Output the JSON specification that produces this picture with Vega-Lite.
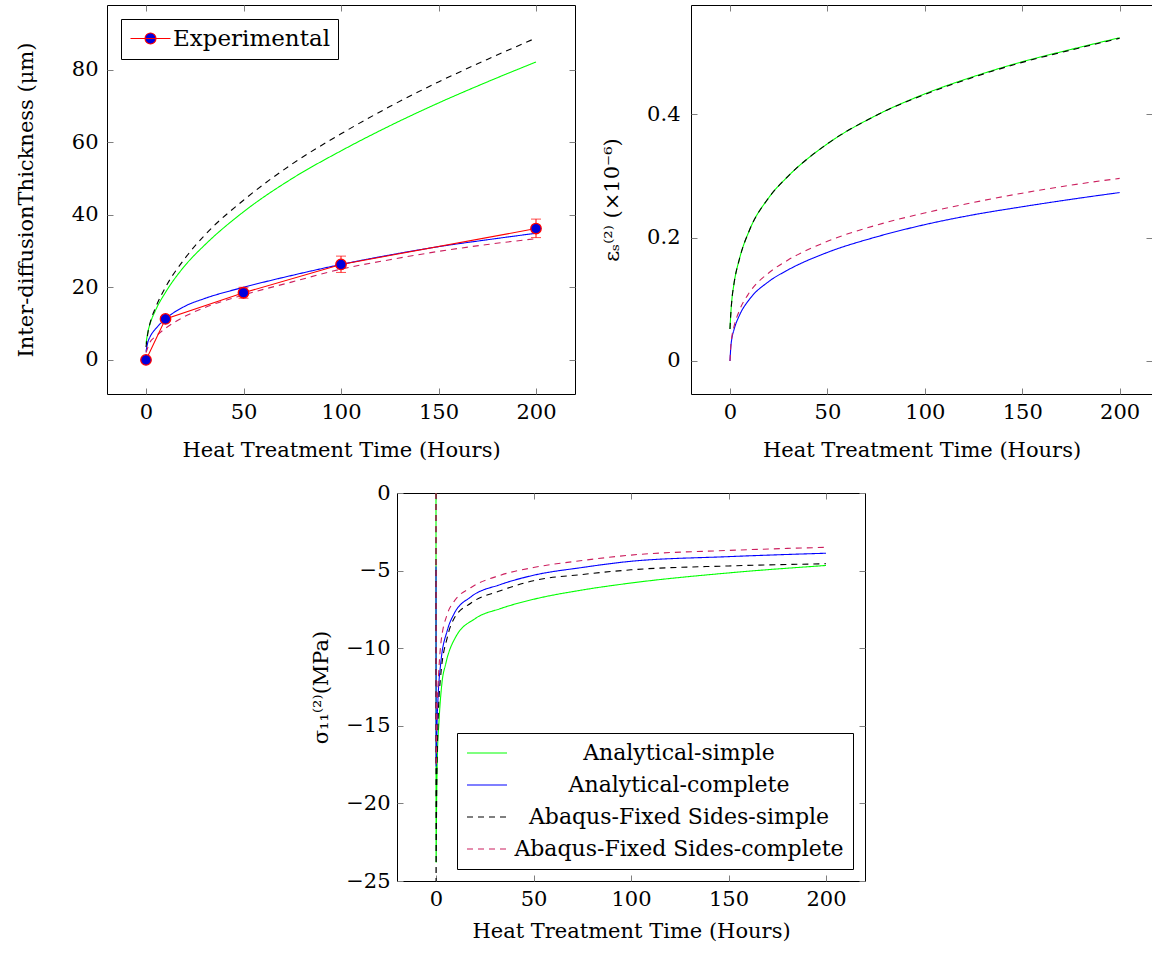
{
"$schema": "https://vega.github.io/schema/vega-lite/v6.json",
"padding": {"left": 14, "top": 4, "right": 0, "bottom": 0},
"config": {
  "font": "DejaVu Serif",
  "view": {"stroke": "#000000", "strokeWidth": 1},
  "axis": {"grid": false, "domain": false, "tickSize": -6, "tickColor": "#7f7f7f", "tickWidth": 1, "labelFontSize": 21, "titleFontSize": 21, "titleFontWeight": "normal", "labelColor": "#000000", "titleColor": "#000000", "labelFlush": false, "labelOverlap": false, "labelFont": "DejaVu Serif", "titleFont": "DejaVu Serif"},
  "legend": {"labelFont": "DejaVu Serif", "labelFontSize": 21, "labelColor": "#000000", "labelLimit": 600},
  "line": {"strokeWidth": 1.1}
},
"datasets": {
  "thick": [
    {"t":0,"v":4.5,"s":"Analytical-simple"},{"t":1,"v":7.8,"s":"Analytical-simple"},{"t":2,"v":9.8,"s":"Analytical-simple"},{"t":5,"v":13.8,"s":"Analytical-simple"},{"t":10,"v":18.6,"s":"Analytical-simple"},{"t":20,"v":26,"s":"Analytical-simple"},{"t":30,"v":31.6,"s":"Analytical-simple"},{"t":50,"v":40.8,"s":"Analytical-simple"},{"t":75,"v":50,"s":"Analytical-simple"},{"t":100,"v":57.6,"s":"Analytical-simple"},{"t":125,"v":64.5,"s":"Analytical-simple"},{"t":150,"v":70.8,"s":"Analytical-simple"},{"t":175,"v":76.6,"s":"Analytical-simple"},{"t":200,"v":82.1,"s":"Analytical-simple"},
    {"t":0,"v":2.3,"s":"Analytical-complete"},{"t":1,"v":5,"s":"Analytical-complete"},{"t":2,"v":6.3,"s":"Analytical-complete"},{"t":5,"v":8.6,"s":"Analytical-complete"},{"t":10,"v":11.3,"s":"Analytical-complete"},{"t":20,"v":14.8,"s":"Analytical-complete"},{"t":30,"v":16.9,"s":"Analytical-complete"},{"t":50,"v":20,"s":"Analytical-complete"},{"t":75,"v":23.3,"s":"Analytical-complete"},{"t":100,"v":26.3,"s":"Analytical-complete"},{"t":125,"v":28.9,"s":"Analytical-complete"},{"t":150,"v":31.2,"s":"Analytical-complete"},{"t":175,"v":33.1,"s":"Analytical-complete"},{"t":200,"v":34.9,"s":"Analytical-complete"},
    {"t":0,"v":3.5,"s":"Abaqus-Fixed Sides-simple"},{"t":1,"v":7.5,"s":"Abaqus-Fixed Sides-simple"},{"t":2,"v":10,"s":"Abaqus-Fixed Sides-simple"},{"t":5,"v":14.5,"s":"Abaqus-Fixed Sides-simple"},{"t":10,"v":20,"s":"Abaqus-Fixed Sides-simple"},{"t":20,"v":28,"s":"Abaqus-Fixed Sides-simple"},{"t":30,"v":34.3,"s":"Abaqus-Fixed Sides-simple"},{"t":50,"v":44,"s":"Abaqus-Fixed Sides-simple"},{"t":75,"v":54,"s":"Abaqus-Fixed Sides-simple"},{"t":100,"v":62.3,"s":"Abaqus-Fixed Sides-simple"},{"t":125,"v":69.8,"s":"Abaqus-Fixed Sides-simple"},{"t":150,"v":76.6,"s":"Abaqus-Fixed Sides-simple"},{"t":175,"v":82.8,"s":"Abaqus-Fixed Sides-simple"},{"t":200,"v":88.7,"s":"Abaqus-Fixed Sides-simple"},
    {"t":0,"v":2,"s":"Abaqus-Fixed Sides-complete"},{"t":1,"v":3.5,"s":"Abaqus-Fixed Sides-complete"},{"t":2,"v":4.8,"s":"Abaqus-Fixed Sides-complete"},{"t":5,"v":6.5,"s":"Abaqus-Fixed Sides-complete"},{"t":10,"v":8.7,"s":"Abaqus-Fixed Sides-complete"},{"t":20,"v":12,"s":"Abaqus-Fixed Sides-complete"},{"t":30,"v":14.4,"s":"Abaqus-Fixed Sides-complete"},{"t":50,"v":17.9,"s":"Abaqus-Fixed Sides-complete"},{"t":75,"v":21.5,"s":"Abaqus-Fixed Sides-complete"},{"t":100,"v":25,"s":"Abaqus-Fixed Sides-complete"},{"t":125,"v":27.6,"s":"Abaqus-Fixed Sides-complete"},{"t":150,"v":29.9,"s":"Abaqus-Fixed Sides-complete"},{"t":175,"v":31.8,"s":"Abaqus-Fixed Sides-complete"},{"t":200,"v":33.4,"s":"Abaqus-Fixed Sides-complete"}
  ],
  "exp": [
    {"t":0,"v":0,"lo":0,"hi":0},{"t":10,"v":11.3,"lo":10.8,"hi":11.8},{"t":50,"v":18.5,"lo":17,"hi":20},{"t":100,"v":26.3,"lo":24.1,"hi":28.6},{"t":200,"v":36.2,"lo":33.7,"hi":38.8}
  ],
  "strain": [
    {"t":0,"v":0.052,"s":"Analytical-simple"},{"t":0.5,"v":0.08,"s":"Analytical-simple"},{"t":1,"v":0.1,"s":"Analytical-simple"},{"t":2,"v":0.124,"s":"Analytical-simple"},{"t":5,"v":0.167,"s":"Analytical-simple"},{"t":10,"v":0.212,"s":"Analytical-simple"},{"t":20,"v":0.265,"s":"Analytical-simple"},{"t":30,"v":0.3,"s":"Analytical-simple"},{"t":50,"v":0.352,"s":"Analytical-simple"},{"t":75,"v":0.398,"s":"Analytical-simple"},{"t":100,"v":0.433,"s":"Analytical-simple"},{"t":125,"v":0.461,"s":"Analytical-simple"},{"t":150,"v":0.485,"s":"Analytical-simple"},{"t":175,"v":0.505,"s":"Analytical-simple"},{"t":200,"v":0.524,"s":"Analytical-simple"},
    {"t":0,"v":0,"s":"Analytical-complete"},{"t":0.5,"v":0.025,"s":"Analytical-complete"},{"t":1,"v":0.037,"s":"Analytical-complete"},{"t":2,"v":0.05,"s":"Analytical-complete"},{"t":5,"v":0.075,"s":"Analytical-complete"},{"t":10,"v":0.1,"s":"Analytical-complete"},{"t":20,"v":0.129,"s":"Analytical-complete"},{"t":30,"v":0.148,"s":"Analytical-complete"},{"t":50,"v":0.176,"s":"Analytical-complete"},{"t":75,"v":0.201,"s":"Analytical-complete"},{"t":100,"v":0.221,"s":"Analytical-complete"},{"t":125,"v":0.237,"s":"Analytical-complete"},{"t":150,"v":0.25,"s":"Analytical-complete"},{"t":175,"v":0.262,"s":"Analytical-complete"},{"t":200,"v":0.273,"s":"Analytical-complete"},
    {"t":0,"v":0.052,"s":"Abaqus-Fixed Sides-simple"},{"t":0.5,"v":0.08,"s":"Abaqus-Fixed Sides-simple"},{"t":1,"v":0.1,"s":"Abaqus-Fixed Sides-simple"},{"t":2,"v":0.124,"s":"Abaqus-Fixed Sides-simple"},{"t":5,"v":0.167,"s":"Abaqus-Fixed Sides-simple"},{"t":10,"v":0.212,"s":"Abaqus-Fixed Sides-simple"},{"t":20,"v":0.265,"s":"Abaqus-Fixed Sides-simple"},{"t":30,"v":0.3,"s":"Abaqus-Fixed Sides-simple"},{"t":50,"v":0.352,"s":"Abaqus-Fixed Sides-simple"},{"t":75,"v":0.398,"s":"Abaqus-Fixed Sides-simple"},{"t":100,"v":0.432,"s":"Abaqus-Fixed Sides-simple"},{"t":125,"v":0.46,"s":"Abaqus-Fixed Sides-simple"},{"t":150,"v":0.484,"s":"Abaqus-Fixed Sides-simple"},{"t":175,"v":0.504,"s":"Abaqus-Fixed Sides-simple"},{"t":200,"v":0.523,"s":"Abaqus-Fixed Sides-simple"},
    {"t":0,"v":0,"s":"Abaqus-Fixed Sides-complete"},{"t":0.5,"v":0.027,"s":"Abaqus-Fixed Sides-complete"},{"t":1,"v":0.04,"s":"Abaqus-Fixed Sides-complete"},{"t":2,"v":0.055,"s":"Abaqus-Fixed Sides-complete"},{"t":5,"v":0.083,"s":"Abaqus-Fixed Sides-complete"},{"t":10,"v":0.111,"s":"Abaqus-Fixed Sides-complete"},{"t":20,"v":0.143,"s":"Abaqus-Fixed Sides-complete"},{"t":30,"v":0.164,"s":"Abaqus-Fixed Sides-complete"},{"t":50,"v":0.194,"s":"Abaqus-Fixed Sides-complete"},{"t":75,"v":0.22,"s":"Abaqus-Fixed Sides-complete"},{"t":100,"v":0.24,"s":"Abaqus-Fixed Sides-complete"},{"t":125,"v":0.257,"s":"Abaqus-Fixed Sides-complete"},{"t":150,"v":0.272,"s":"Abaqus-Fixed Sides-complete"},{"t":175,"v":0.285,"s":"Abaqus-Fixed Sides-complete"},{"t":200,"v":0.296,"s":"Abaqus-Fixed Sides-complete"}
  ],
  "stress": [
    {"t":0,"v":0,"s":"Analytical-simple"},{"t":0.05,"v":-23.8,"s":"Analytical-simple"},{"t":0.3,"v":-20,"s":"Analytical-simple"},{"t":0.7,"v":-17,"s":"Analytical-simple"},{"t":1.5,"v":-14.8,"s":"Analytical-simple"},{"t":3,"v":-12.3,"s":"Analytical-simple"},{"t":5,"v":-11,"s":"Analytical-simple"},{"t":10,"v":-9.3,"s":"Analytical-simple"},{"t":20,"v":-8.1,"s":"Analytical-simple"},{"t":33,"v":-7.45,"s":"Analytical-simple"},{"t":50,"v":-6.85,"s":"Analytical-simple"},{"t":75,"v":-6.25,"s":"Analytical-simple"},{"t":100,"v":-5.8,"s":"Analytical-simple"},{"t":150,"v":-5.15,"s":"Analytical-simple"},{"t":200,"v":-4.67,"s":"Analytical-simple"},
    {"t":0,"v":-4.74,"s":"Analytical-complete"},{"t":0.1,"v":-17.6,"s":"Analytical-complete"},{"t":0.5,"v":-15,"s":"Analytical-complete"},{"t":1,"v":-13.3,"s":"Analytical-complete"},{"t":2.4,"v":-11,"s":"Analytical-complete"},{"t":5.8,"v":-8.85,"s":"Analytical-complete"},{"t":9.2,"v":-7.8,"s":"Analytical-complete"},{"t":17.8,"v":-6.7,"s":"Analytical-complete"},{"t":33,"v":-5.9,"s":"Analytical-complete"},{"t":50,"v":-5.3,"s":"Analytical-complete"},{"t":75,"v":-4.8,"s":"Analytical-complete"},{"t":100,"v":-4.4,"s":"Analytical-complete"},{"t":150,"v":-4.1,"s":"Analytical-complete"},{"t":200,"v":-3.88,"s":"Analytical-complete"},
    {"t":0,"v":0,"s":"Abaqus-Fixed Sides-simple"},{"t":0.02,"v":-25,"s":"Abaqus-Fixed Sides-simple"},{"t":0.3,"v":-20,"s":"Abaqus-Fixed Sides-simple"},{"t":1,"v":-15,"s":"Abaqus-Fixed Sides-simple"},{"t":2.4,"v":-11.8,"s":"Abaqus-Fixed Sides-simple"},{"t":5.8,"v":-9.3,"s":"Abaqus-Fixed Sides-simple"},{"t":9.2,"v":-8.1,"s":"Abaqus-Fixed Sides-simple"},{"t":17.8,"v":-7.1,"s":"Abaqus-Fixed Sides-simple"},{"t":33,"v":-6.3,"s":"Abaqus-Fixed Sides-simple"},{"t":50,"v":-5.65,"s":"Abaqus-Fixed Sides-simple"},{"t":75,"v":-5.25,"s":"Abaqus-Fixed Sides-simple"},{"t":100,"v":-4.95,"s":"Abaqus-Fixed Sides-simple"},{"t":150,"v":-4.7,"s":"Abaqus-Fixed Sides-simple"},{"t":200,"v":-4.56,"s":"Abaqus-Fixed Sides-simple"},
    {"t":0,"v":0,"s":"Abaqus-Fixed Sides-complete"},{"t":0.1,"v":-17.6,"s":"Abaqus-Fixed Sides-complete"},{"t":0.5,"v":-14,"s":"Abaqus-Fixed Sides-complete"},{"t":1,"v":-12.5,"s":"Abaqus-Fixed Sides-complete"},{"t":2.4,"v":-9.8,"s":"Abaqus-Fixed Sides-complete"},{"t":5.8,"v":-7.8,"s":"Abaqus-Fixed Sides-complete"},{"t":9.2,"v":-7,"s":"Abaqus-Fixed Sides-complete"},{"t":17.8,"v":-6.1,"s":"Abaqus-Fixed Sides-complete"},{"t":33,"v":-5.3,"s":"Abaqus-Fixed Sides-complete"},{"t":50,"v":-4.8,"s":"Abaqus-Fixed Sides-complete"},{"t":75,"v":-4.35,"s":"Abaqus-Fixed Sides-complete"},{"t":100,"v":-4,"s":"Abaqus-Fixed Sides-complete"},{"t":150,"v":-3.7,"s":"Abaqus-Fixed Sides-complete"},{"t":200,"v":-3.5,"s":"Abaqus-Fixed Sides-complete"}
  ]
},
"resolve": {"scale": {"color": "independent", "strokeDash": "independent", "stroke": "independent"}, "legend": {"color": "independent", "strokeDash": "independent", "stroke": "independent"}},
"spacing": 20,
"vconcat": [
 {
  "spacing": 25,
  "resolve": {"scale": {"color": "independent", "strokeDash": "independent", "stroke": "independent"}, "legend": {"color": "independent", "strokeDash": "independent", "stroke": "independent"}},
  "hconcat": [
   {
    "width": 468, "height": 389,
    "resolve": {"axis": {"x": "independent", "y": "independent"}},
    "layer": [
     {"data": {"name": "thick"}, "mark": {"type": "line", "interpolate": "monotone"},
      "encoding": {
       "x": {"field": "t", "type": "quantitative", "scale": {"domain": [-20, 220], "nice": false, "zero": false}, "axis": {"values": [0,50,100,150,200], "title": "Heat Treatment Time (Hours)", "labelPadding": 13, "titlePadding": 17}},
       "y": {"field": "v", "type": "quantitative", "scale": {"domain": [-9.4, 97.8], "nice": false, "zero": false}, "axis": {"values": [0,20,40,60,80], "title": "Inter-diffusionThickness (μm)", "labelPadding": 15, "titlePadding": 35}},
       "color": {"field": "s", "type": "nominal", "scale": {"domain": ["Analytical-simple","Analytical-complete","Abaqus-Fixed Sides-simple","Abaqus-Fixed Sides-complete"], "range": ["#00ff00","#0000ff","#000000","#cc1f5e"]}, "legend": null},
       "strokeDash": {"field": "s", "type": "nominal", "scale": {"domain": ["Analytical-simple","Analytical-complete","Abaqus-Fixed Sides-simple","Abaqus-Fixed Sides-complete"], "range": [[1,0],[1,0],[6,5],[6,5]]}, "legend": null}
      }},
     {"data": {"name": "exp"}, "mark": {"type": "line", "strokeWidth": 1.1},
      "encoding": {
       "x": {"field": "t", "type": "quantitative", "axis": null},
       "y": {"field": "v", "type": "quantitative", "axis": null},
       "stroke": {"datum": "Experimental", "type": "nominal", "scale": {"domain": ["Experimental"], "range": ["#ff0000"]},
         "legend": {"title": null, "orient": "top-left", "offset": 14, "padding": 8, "strokeColor": "#000000", "fillColor": "#ffffff", "cornerRadius": 0, "symbolType": "M-2,0L2,0M0.55,0A0.55,0.55,0,1,1,-0.55,0A0.55,0.55,0,1,1,0.55,0Z", "symbolSize": 400, "symbolStrokeWidth": 1.3, "symbolOffset": 10, "symbolFillColor": "#0000dd", "symbolStrokeColor": "#ff0000", "labelOffset": 11, "labelFontSize": 23,
           "encode": {"symbols": {"update": {"fill": {"value": "#0000dd"}, "stroke": {"value": "#ff0000"}, "opacity": {"value": 1}, "fillOpacity": {"value": 1}}}}}}
      }},
     {"data": {"name": "exp"}, "mark": {"type": "errorbar", "ticks": {"size": 10, "color": "#ff0000"}, "rule": {"color": "#ff0000"}, "color": "#ff0000"},
      "encoding": {
       "x": {"field": "t", "type": "quantitative", "axis": null},
       "y": {"field": "lo", "type": "quantitative", "axis": null},
       "y2": {"field": "hi"}
      }},
     {"data": {"name": "exp"}, "mark": {"type": "point", "filled": true, "fill": "#0000dd", "stroke": "#ff0000", "strokeWidth": 1.3, "size": 110, "opacity": 1},
      "encoding": {
       "x": {"field": "t", "type": "quantitative", "axis": null},
       "y": {"field": "v", "type": "quantitative", "axis": null}
      }},
     {"data": {"values": []}, "mark": "point",
      "encoding": {
       "x": {"field": "t", "type": "quantitative", "axis": {"orient": "top", "values": [0,50,100,150,200], "labels": false, "title": null}},
       "y": {"field": "v", "type": "quantitative", "axis": {"orient": "right", "values": [0,20,40,60,80], "labels": false, "title": null}}
      }}
    ]
   },
   {
    "width": 461, "height": 389,
    "resolve": {"axis": {"x": "independent", "y": "independent"}},
    "layer": [
     {"data": {"name": "strain"}, "mark": {"type": "line", "interpolate": "monotone"},
      "encoding": {
       "x": {"field": "t", "type": "quantitative", "scale": {"domain": [-20, 216.6], "nice": false, "zero": false}, "axis": {"values": [0,50,100,150,200], "title": "Heat Treatment Time (Hours)", "labelPadding": 13, "titlePadding": 17}},
       "y": {"field": "v", "type": "quantitative", "scale": {"domain": [-0.0535, 0.577], "nice": false, "zero": false}, "axis": {"values": [0,0.2,0.4], "format": "~g", "title": "εₛ⁽²⁾ (×10⁻⁶)", "labelPadding": 17, "titlePadding": 24}},
       "color": {"field": "s", "type": "nominal", "scale": {"domain": ["Analytical-simple","Analytical-complete","Abaqus-Fixed Sides-simple","Abaqus-Fixed Sides-complete"], "range": ["#00ff00","#0000ff","#000000","#cc1f5e"]}, "legend": null},
       "strokeDash": {"field": "s", "type": "nominal", "scale": {"domain": ["Analytical-simple","Analytical-complete","Abaqus-Fixed Sides-simple","Abaqus-Fixed Sides-complete"], "range": [[1,0],[1,0],[6,5],[6,5]]}, "legend": null}
      }},
     {"data": {"values": []}, "mark": "point",
      "encoding": {
       "x": {"field": "t", "type": "quantitative", "axis": {"orient": "top", "values": [0,50,100,150,200], "labels": false, "title": null}},
       "y": {"field": "v", "type": "quantitative", "axis": {"orient": "right", "values": [0,0.2,0.4], "labels": false, "title": null}}
      }}
    ]
   }
  ]
 },
 {
  "spacing": 0,
  "resolve": {"scale": {"color": "independent", "strokeDash": "independent", "stroke": "independent"}, "legend": {"color": "independent", "strokeDash": "independent", "stroke": "independent"}},
  "hconcat": [
   {"width": 203, "height": 10, "data": {"values": []}, "mark": "point", "view": {"stroke": null}},
   {
    "width": 468, "height": 388,
    "resolve": {"axis": {"x": "independent", "y": "independent"}},
    "layer": [
     {"data": {"name": "stress"}, "mark": {"type": "line", "interpolate": "monotone"},
      "encoding": {
       "x": {"field": "t", "type": "quantitative", "scale": {"domain": [-20, 220], "nice": false, "zero": false}, "axis": {"values": [0,50,100,150,200], "title": "Heat Treatment Time (Hours)", "labelPadding": 13, "titlePadding": 11}},
       "y": {"field": "v", "type": "quantitative", "scale": {"domain": [-25, 0], "nice": false, "zero": false}, "axis": {"values": [0,-5,-10,-15,-20,-25], "title": "σ₁₁⁽²⁾(MPa)", "labelPadding": 13, "titlePadding": 14}},
       "color": {"field": "s", "type": "nominal", "scale": {"domain": ["Analytical-simple","Analytical-complete","Abaqus-Fixed Sides-simple","Abaqus-Fixed Sides-complete"], "range": ["#00ff00","#0000ff","#000000","#cc1f5e"]},
         "legend": {"title": null, "orient": "bottom-right", "offset": 12, "padding": 9, "strokeColor": "#000000", "fillColor": "#ffffff", "cornerRadius": 0, "symbolType": "M-2,0L2,0", "symbolSize": 400, "symbolStrokeWidth": 1.1, "symbolOffset": 10, "labelAlign": "center", "labelOffset": 181, "rowPadding": 10, "labelFontSize": 22, "labelLimit": 600}},
       "strokeDash": {"field": "s", "type": "nominal", "scale": {"domain": ["Analytical-simple","Analytical-complete","Abaqus-Fixed Sides-simple","Abaqus-Fixed Sides-complete"], "range": [[1,0],[1,0],[6,5],[6,5]]},
         "legend": {"title": null, "orient": "bottom-right", "offset": 12, "padding": 9, "strokeColor": "#000000", "fillColor": "#ffffff", "cornerRadius": 0, "symbolType": "M-2,0L2,0", "symbolSize": 400, "symbolStrokeWidth": 1.1, "symbolOffset": 10, "labelAlign": "center", "labelOffset": 181, "rowPadding": 10, "labelFontSize": 22, "labelLimit": 600}}
      }},
     {"data": {"values": []}, "mark": "point",
      "encoding": {
       "x": {"field": "t", "type": "quantitative", "axis": {"orient": "top", "values": [0,50,100,150,200], "labels": false, "title": null}},
       "y": {"field": "v", "type": "quantitative", "axis": {"orient": "right", "values": [0,-5,-10,-15,-20,-25], "labels": false, "title": null}}
      }}
    ]
   }
  ]
 }
]
}
